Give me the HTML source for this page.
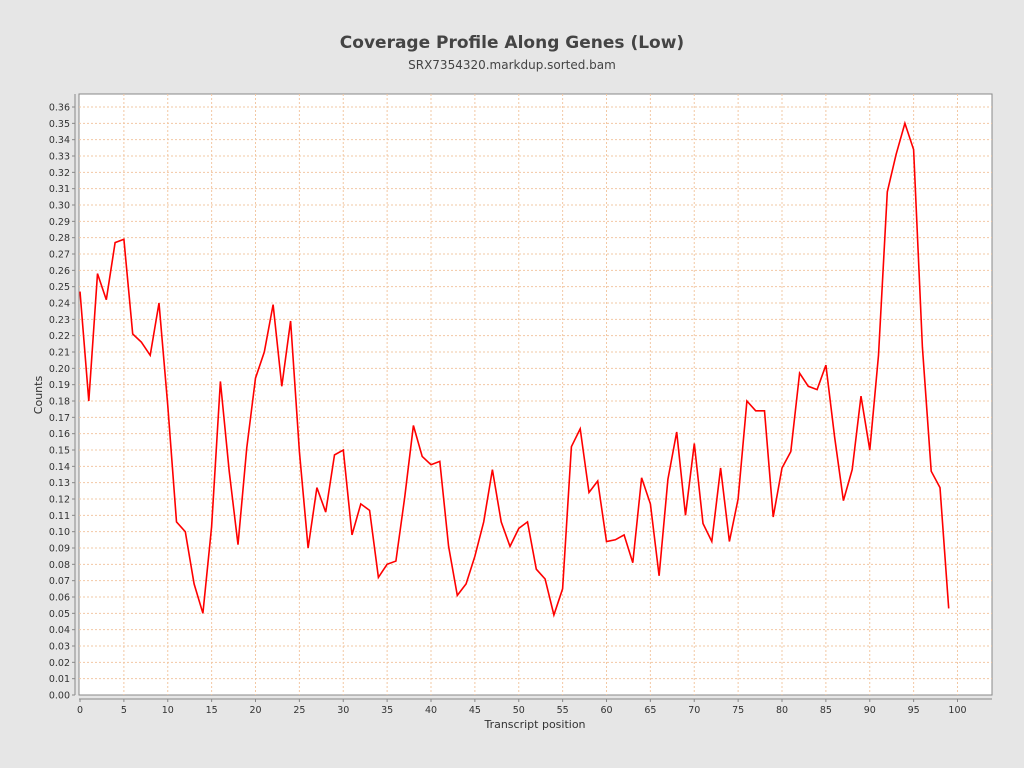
<!DOCTYPE html>
<html><head><meta charset="utf-8"><style>
html,body{margin:0;padding:0;background:#e6e6e6;}
svg{display:block;font-family:"DejaVu Sans","Liberation Sans",sans-serif;}
</style></head><body>
<svg id="s" width="1024" height="768" xmlns="http://www.w3.org/2000/svg">
<rect x="0" y="0" width="1024" height="768" fill="#e6e6e6"/>
<text x="512" y="48" text-anchor="middle" font-size="17" font-weight="bold" fill="#444">Coverage Profile Along Genes (Low)</text>
<text x="512" y="69" text-anchor="middle" font-size="12" fill="#444">SRX7354320.markdup.sorted.bam</text>
<rect x="79" y="94" width="913" height="601" fill="#fff" stroke="#888" stroke-width="1"/>
<g id="grid"></g>
<g id="axes"></g>
<polyline id="line" fill="none" stroke="#ff0000" stroke-width="1.6" stroke-linejoin="miter"/>
<text transform="translate(42,395) rotate(-90)" text-anchor="middle" font-size="11" fill="#333">Counts</text>
<text x="535" y="728" text-anchor="middle" font-size="11" fill="#333">Transcript position</text>
</svg>
<script>
var v=[0.247,0.180,0.258,0.242,0.277,0.279,0.221,0.216,0.208,0.240,0.177,0.106,0.100,0.068,0.050,0.103,0.192,0.137,0.092,0.151,0.194,0.210,0.239,0.189,0.229,0.149,0.090,0.127,0.112,0.147,0.150,0.098,0.117,0.113,0.072,0.080,0.082,0.121,0.165,0.146,0.141,0.143,0.091,0.061,0.068,0.085,0.106,0.138,0.106,0.091,0.102,0.106,0.077,0.071,0.049,0.065,0.152,0.163,0.124,0.131,0.094,0.095,0.098,0.081,0.133,0.117,0.073,0.132,0.161,0.110,0.154,0.105,0.094,0.139,0.094,0.120,0.180,0.174,0.174,0.109,0.139,0.149,0.197,0.189,0.187,0.202,0.158,0.119,0.138,0.183,0.150,0.208,0.308,0.331,0.350,0.334,0.213,0.137,0.127,0.053];
function X(i){return 80+i*8.775;}
function Y(val){return 695-val*1633.3;}
var ns="http://www.w3.org/2000/svg",g=document.getElementById('grid'),a=document.getElementById('axes');
function el(p,t,at,txt){var e=document.createElementNS(ns,t);for(var k in at)e.setAttribute(k,at[k]);if(txt!==undefined)e.textContent=txt;p.appendChild(e);return e;}
for(var j=0;j<=36;j++){var y=Y(j/100);
 if(j>0)el(g,'line',{x1:79,x2:992,y1:y,y2:y,stroke:'#f2c8a4','stroke-width':1,'stroke-dasharray':'2,2'});
 el(a,'line',{x1:72,x2:75,y1:y,y2:y,stroke:'#888'});
 el(a,'text',{x:70,y:y+3.5,'text-anchor':'end','font-size':'9.5',fill:'#333'},(j/100).toFixed(2));}
for(var i=0;i<=100;i+=5){var x=X(i);
 if(i>0)el(g,'line',{x1:x,x2:x,y1:94,y2:695,stroke:'#f2c8a4','stroke-width':1,'stroke-dasharray':'2,2'});
 el(a,'line',{x1:x,x2:x,y1:699,y2:702,stroke:'#888'});
 el(a,'text',{x:x,y:713,'text-anchor':'middle','font-size':'9.5',fill:'#333'},i);}
el(a,'line',{x1:75,x2:75,y1:94,y2:695,stroke:'#888'});
el(a,'line',{x1:79,x2:992,y1:699,y2:699,stroke:'#888'});
var pts=v.map(function(val,i){return X(i).toFixed(1)+','+Y(val).toFixed(1);}).join(' ');
document.getElementById('line').setAttribute('points',pts);
</script>
</body></html>
